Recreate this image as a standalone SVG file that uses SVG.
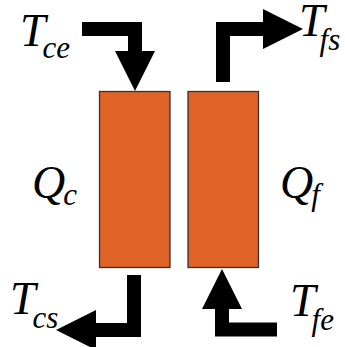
<svg xmlns="http://www.w3.org/2000/svg" width="345" height="347" viewBox="0 0 345 347">
<style>
.box{fill:#DF6326;stroke:#3a3030;stroke-width:1.3}
.flow{fill:none;stroke:#000;stroke-width:14;stroke-linejoin:miter;stroke-linecap:butt}
.lbl{font-family:"Liberation Serif","DejaVu Serif",serif;font-style:italic;fill:#000}
.main{font-size:46px}
.sub{font-size:31px}
</style>
<defs>
<marker id="ah" markerUnits="userSpaceOnUse" markerWidth="40" markerHeight="40" viewBox="0 0 38 38" refX="0" refY="19" orient="auto">
<path d="M0,0 L38,19 L0,38 Z" fill="#000"/>
</marker>
</defs>
<rect width="345" height="347" fill="#fff"/>
<g id="hx-cold">
<rect class="box" x="99.5" y="91.5" width="70.5" height="176"/>
</g>
<g id="hx-hot">
<rect class="box" x="188" y="91.5" width="70.5" height="176"/>
</g>
<g id="connectors">
<polyline class="flow" points="82,29 135,29 135,51" marker-end="url(#ah)"/>
<polyline class="flow" points="223,82 223,29 263,29" marker-end="url(#ah)"/>
<polyline class="flow" points="134,275 134,330 96,330" marker-end="url(#ah)"/>
<polyline class="flow" points="277,329.5 222,329.5 222,309" marker-end="url(#ah)"/>
</g>
<g id="label-Tce"><text class="lbl" x="20" y="46"><tspan class="main">T</tspan><tspan class="sub" dx="-3" dy="12">ce</tspan></text></g>
<g id="label-Tfs"><text class="lbl" x="299" y="36"><tspan class="main">T</tspan><tspan class="sub" dx="-5" dy="14">fs</tspan></text></g>
<g id="label-Qc"><text class="lbl" x="32" y="198"><tspan class="main">Q</tspan><tspan class="sub" dx="-2" dy="7">c</tspan></text></g>
<g id="label-Qf"><text class="lbl" x="280" y="198"><tspan class="main">Q</tspan><tspan class="sub" dx="-2" dy="7">f</tspan></text></g>
<g id="label-Tcs"><text class="lbl" x="10" y="314"><tspan class="main">T</tspan><tspan class="sub" dx="-3" dy="14">cs</tspan></text></g>
<g id="label-Tfe"><text class="lbl" x="290" y="316"><tspan class="main">T</tspan><tspan class="sub" dx="-4" dy="14">fe</tspan></text></g>
</svg>
